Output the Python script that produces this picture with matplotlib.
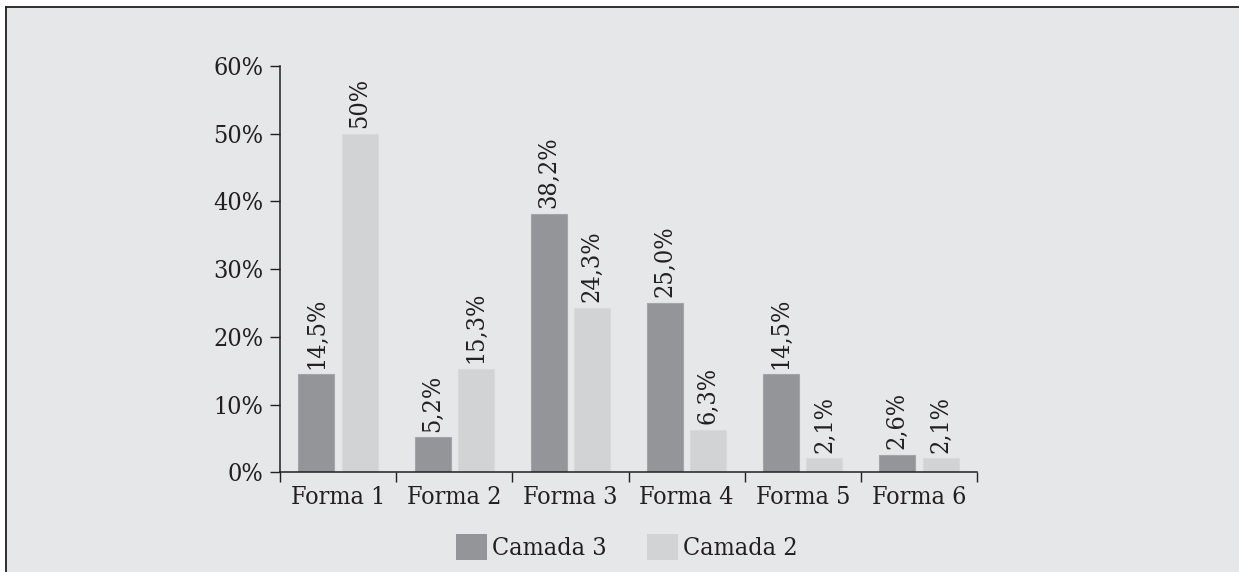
import matplotlib
matplotlib.use("Agg")
import matplotlib.pyplot as plt
import numpy as np
from matplotlib import font_manager
from matplotlib.patches import Rectangle, Patch
from matplotlib.lines import Line2D

categories = ["Forma 1", "Forma 2", "Forma 3", "Forma 4", "Forma 5", "Forma 6"]
camada3 = [14.5, 5.2, 38.2, 25.0, 14.5, 2.6]
camada2 = [50.0, 15.3, 24.3, 6.3, 2.1, 2.1]
labels3 = ["14,5%", "5,2%", "38,2%", "25,0%", "14,5%", "2,6%"]
labels2 = ["50%", "15,3%", "24,3%", "6,3%", "2,1%", "2,1%"]
yticks = [0, 10, 20, 30, 40, 50, 60]
ytick_labels = ["0%", "10%", "20%", "30%", "40%", "50%", "60%"]
series_names = ["Camada 3", "Camada 2"]

# font choice: condensed serif if available
cond = [f for f in font_manager.fontManager.ttflist
        if "serif" in f.name.lower() and "condensed" in str(f.stretch).lower() and "sans" not in f.name.lower()]
if cond:
    fam = cond[0].name
    stretch = "condensed"
    FS = 18
else:
    fam = "Liberation Serif"
    stretch = "normal"
    FS = 19
plt.rcParams["font.family"] = [fam, "DejaVu Serif"]
plt.rcParams["font.stretch"] = stretch

TXT = "#231f20"
BG = "#e6e7e8"
DARK = "#939598"
LIGHT = "#d1d3d4"

W, H = 1239, 572
fig = plt.figure(figsize=(W / 100, H / 100), dpi=100, facecolor="white")
# panel background and frame
fig.patches.append(Rectangle((6 / W, 0), 1, 1 - 7 / H, transform=fig.transFigure,
                             facecolor=BG, edgecolor="none", zorder=-10))
fig.lines.append(Line2D([6 / W, 1], [1 - 7 / H, 1 - 7 / H], transform=fig.transFigure,
                        color=TXT, lw=1.3, zorder=-5))
fig.lines.append(Line2D([6 / W, 6 / W], [0, 1 - 7 / H], transform=fig.transFigure,
                        color=TXT, lw=1.3, zorder=-5))

ax = fig.add_axes([280 / W, (H - 472.3) / H, (977 - 280) / W, (472.3 - 66) / H])
ax.set_facecolor("none")

x = np.arange(len(categories))
w = 0.31
off = 0.187
ax.bar(x - off, camada3, w, color=DARK, edgecolor="#a3a5a8", linewidth=0.8, zorder=2)
ax.bar(x + off, camada2, w, color=LIGHT, edgecolor="#d8d9db", linewidth=0.8, zorder=2)

for xi, v, t in zip(x - off, camada3, labels3):
    ax.annotate(t, (xi, v), xytext=(0, 4), textcoords="offset points", rotation=90,
                ha="center", va="bottom", fontsize=FS, color=TXT)
for xi, v, t in zip(x + off, camada2, labels2):
    ax.annotate(t, (xi, v), xytext=(0, 4), textcoords="offset points", rotation=90,
                ha="center", va="bottom", fontsize=FS, color=TXT)

ax.set_xlim(-0.5, len(categories) - 0.5)
ax.set_ylim(0, 60)
ax.set_yticks(yticks)
ax.set_yticklabels(ytick_labels, fontsize=FS, color=TXT)
ax.set_xticks(np.arange(len(categories) + 1) - 0.5)
ax.set_xticklabels([])
ax.set_xticks(x, minor=True)
ax.set_xticklabels(categories, minor=True, fontsize=FS, color=TXT)
ax.tick_params(axis="x", which="minor", length=0, pad=10)
ax.tick_params(axis="x", which="major", length=7, width=1, color=TXT, direction="out")
ax.tick_params(axis="y", length=7, width=1, color=TXT, pad=5)
for s in ["top", "right"]:
    ax.spines[s].set_visible(False)
for s in ["left", "bottom"]:
    ax.spines[s].set_color(TXT)
    ax.spines[s].set_linewidth(1.1)

handles = [Patch(facecolor=DARK, edgecolor="none"), Patch(facecolor=LIGHT, edgecolor="none")]
fig.legend(handles, series_names, loc="center", bbox_to_anchor=(627 / W, (H - 547) / H),
           ncol=2, frameon=False, fontsize=FS, handlelength=1.25, handleheight=1.25,
           handletextpad=0.2, columnspacing=1.6, labelcolor=TXT)

fig.savefig("out.png", dpi=100, facecolor="white")
